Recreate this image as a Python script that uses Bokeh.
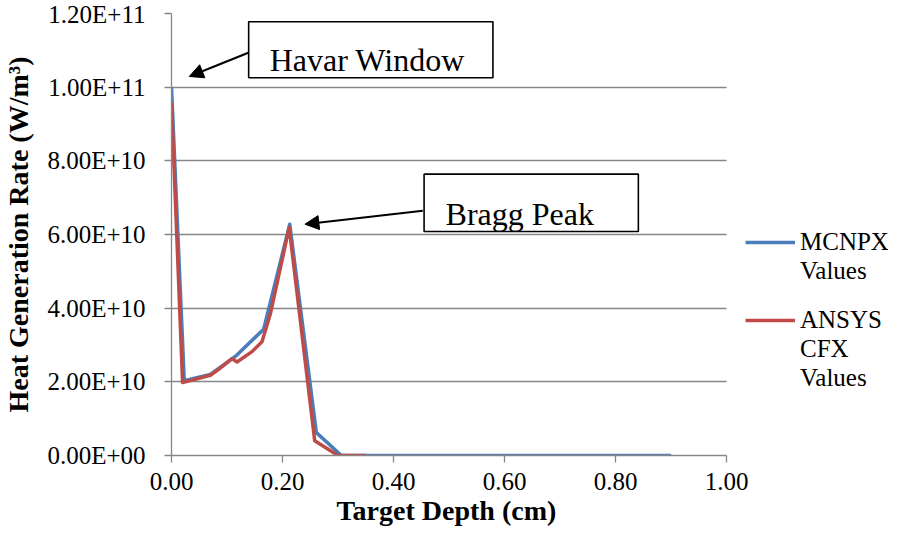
from bokeh.plotting import figure
from bokeh.models import (Range1d, FixedTicker, CustomJSTickFormatter, NumeralTickFormatter,
                          Legend, LegendItem, Label, BoxAnnotation, Arrow, NormalHead, Title)
from bokeh.embed import file_html
from bokeh.resources import INLINE

# ---- data ----
mcnpx_depth = [0.0, 0.023, 0.070, 0.115, 0.166, 0.213, 0.261, 0.306, 0.90]
mcnpx_heat = [1.00e11, 2.03e10, 2.20e10, 2.69e10, 3.43e10, 6.28e10, 6.2e9, 0.0, 0.0]

ansys_depth = [0.0, 0.020, 0.070, 0.085, 0.109, 0.118, 0.145, 0.163, 0.178, 0.212, 0.258, 0.300, 0.350]
ansys_heat = [9.58e10, 1.98e10, 2.18e10, 2.34e10, 2.63e10, 2.54e10, 2.82e10, 3.09e10, 3.84e10,
              6.19e10, 4.0e9, 0.0, 0.0]

x_ticks = [0.0, 0.2, 0.4, 0.6, 0.8, 1.0]
y_ticks = [0, 2e10, 4e10, 6e10, 8e10, 1e11, 1.2e11]

x_title = "Target Depth (cm)"
y_title = "Heat Generation Rate (W/m\u00b3)"
mcnpx_name = ["MCNPX", "Values"]
ansys_name = ["ANSYS", "CFX", "Values"]
annot_texts = ["Havar Window", "Bragg Peak"]

BLUE = "#4A7EBB"
RED = "#BE4B48"
GRID = "#868686"
FONT = "Liberation Serif"

W, H = 888, 530
LEFT, BOTTOM, TOP = 166, 75, 13
# plot area spans x = 0..1 over 559 px; the frame is widened to the right so the
# legend (which sits right of the axes) lies inside the drawable frame.
FRAME_W = W - LEFT
X_END = FRAME_W / 559.0

p = figure(width=W, height=H, output_backend="svg", toolbar_location=None,
           x_range=Range1d(0, X_END), y_range=Range1d(0, 1.2e11),
           min_border_left=LEFT, min_border_right=0, min_border_top=TOP, min_border_bottom=BOTTOM)
p.outline_line_color = None
p.background_fill_color = "white"
p.border_fill_color = "white"

r1 = p.line(mcnpx_depth, mcnpx_heat, line_color=BLUE, line_width=3.5, line_join="round")
r2 = p.line(ansys_depth, ansys_heat, line_color=RED, line_width=3.5, line_join="round")

# axes
p.xaxis.ticker = FixedTicker(ticks=x_ticks)
p.xaxis.formatter = NumeralTickFormatter(format="0.00")
p.xaxis.bounds = (0, 1.0)
p.yaxis.ticker = FixedTicker(ticks=y_ticks)
p.yaxis.formatter = CustomJSTickFormatter(code="""
const s = tick.toExponential(2).split('e');
const e = parseInt(s[1]);
const a = Math.abs(e);
return s[0] + 'E' + (e < 0 ? '-' : '+') + (a < 10 ? '0' : '') + a;
""")
for ax in (p.xaxis[0], p.yaxis[0]):
    ax.axis_line_color = GRID
    ax.axis_line_width = 1.3
    ax.major_tick_line_color = GRID
    ax.major_tick_line_width = 1.3
    ax.major_tick_out = 7
    ax.major_tick_in = 0
    ax.minor_tick_line_color = None
    ax.major_label_text_font = FONT
    ax.major_label_text_font_size = "25px"
    ax.major_label_text_color = "black"
    ax.axis_label_text_font = FONT
    ax.axis_label_text_font_style = "bold"
    ax.axis_label_text_color = "black"

p.yaxis.axis_label = y_title
p.yaxis.axis_label_text_font_size = "28px"
p.xaxis.major_label_standoff = 10
p.yaxis.major_label_standoff = 19
p.yaxis.axis_label_standoff = 10

# x-axis title centred under the 0..1 part of the axis
p.add_layout(Title(text=x_title, align="left", offset=165, standoff=0,
                   text_font=FONT, text_font_size="28px", text_font_style="bold",
                   text_color="black"), "below")

p.xgrid.grid_line_color = None
p.ygrid.grid_line_color = GRID
p.ygrid.grid_line_width = 1.3
p.ygrid.cross_bounds = (0, 1.0)

# annotations
box_style = dict(fill_color="white", fill_alpha=1.0, line_color="black", line_alpha=1.0,
                 line_width=1.6)
p.add_layout(BoxAnnotation(left=0.139, right=0.579, bottom=10.255e10, top=11.774e10, **box_style))
p.add_layout(BoxAnnotation(left=0.455, right=0.841, bottom=6.082e10, top=7.638e10, **box_style))
p.add_layout(Label(x=0.177, y=10.725e10, text=annot_texts[0], text_font=FONT, text_font_size="32px",
                   text_baseline="alphabetic", text_color="black"))
p.add_layout(Label(x=0.4937, y=6.552e10, text=annot_texts[1], text_font=FONT, text_font_size="32px",
                   text_baseline="alphabetic", text_color="black"))
p.add_layout(Arrow(x_start=0.1395, y_start=10.94e10, x_end=0.032, y_end=10.29e10,
                   line_color="black", line_width=2,
                   end=NormalHead(size=14, fill_color="black", line_color="black")))
p.add_layout(Arrow(x_start=0.4526, y_start=6.644e10, x_end=0.2403, y_end=6.28e10,
                   line_color="black", line_width=2,
                   end=NormalHead(size=14, fill_color="black", line_color="black")))

legend_style = dict(border_line_color=None, background_fill_alpha=0,
                    label_text_font=FONT, label_text_font_size="25px", label_text_color="black",
                    glyph_width=50, glyph_height=20, spacing=1, padding=0, margin=0,
                    label_standoff=5)
legend_a = Legend(items=[LegendItem(label=mcnpx_name[0], renderers=[r1]),
                         LegendItem(label=mcnpx_name[1], renderers=[])],
                  location=(574, 170), **legend_style)
legend_b = Legend(items=[LegendItem(label=ansys_name[0], renderers=[r2]),
                         LegendItem(label=ansys_name[1], renderers=[]),
                         LegendItem(label=ansys_name[2], renderers=[])],
                  location=(574, 63), **legend_style)
p.add_layout(legend_a, "center")
p.add_layout(legend_b, "center")

open("out.html", "w").write(file_html(p, INLINE))
